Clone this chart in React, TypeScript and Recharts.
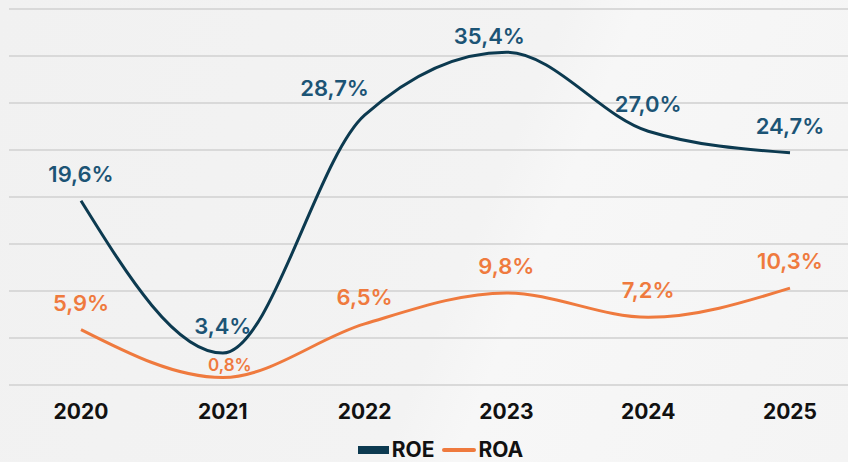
import React from "react";
import {
  LineChart,
  Line,
  XAxis,
  YAxis,
  CartesianGrid,
  LabelList,
  Legend,
} from "recharts";

const years = ["2020", "2021", "2022", "2023", "2024", "2025"];
const roe = [19.6, 3.4, 28.7, 35.4, 27.0, 24.7];
const roa = [5.9, 0.8, 6.5, 9.8, 7.2, 10.3];
const yTicks = [0, 5, 10, 15, 20, 25, 30, 35, 40];

const data = years.map((year, i) => ({ year, roe: roe[i], roa: roa[i] }));

// a couple of labels sit off their point so they clear the line / top edge
const roeNudgeX = [0, 0, -30, -17, 0, 0];
const roeNudgeY = [0, 0, 0, 11, 0, 0];

const ROE_LINE = "#0c3a50";
const ROE_TEXT = "#1c5475";
const ROA = "#ef7a3e";
const FONT = "Inter, 'Open Sans', sans-serif";

const fmt = (v: number) => v.toFixed(1).replace(".", ",") + "%";

const RoeLabel = (props: any) => {
  const { x, y, value, index } = props;
  return (
    <text
      x={x + roeNudgeX[index]}
      y={y - 19 + roeNudgeY[index]}
      textAnchor="middle"
      fill={ROE_TEXT}
      fontFamily={FONT}
      fontWeight={600}
      fontSize={22}
    >
      {fmt(value)}
    </text>
  );
};

const RoaLabel = (props: any) => {
  const { x, y, value, index } = props;
  const small = index === 1;
  return (
    <text
      x={x + (small ? 7 : 0)}
      y={small ? y - 6 : y - 19}
      textAnchor="middle"
      fill={ROA}
      fontFamily={FONT}
      fontWeight={600}
      fontSize={small ? 17 : 22}
    >
      {fmt(value)}
    </text>
  );
};

const LegendBox = () => (
  <div
    style={{
      height: 32,
      display: "flex",
      justifyContent: "center",
      alignItems: "flex-start",
      fontFamily: FONT,
      fontWeight: 700,
      fontSize: 21,
      color: "#111",
      paddingLeft: 24,
    }}
  >
    <div style={{ display: "flex", alignItems: "center", marginTop: 7 }}>
      <div style={{ width: 31, height: 8, background: ROE_LINE, marginRight: 3 }} />
      <span>ROE</span>
      <div
        style={{
          width: 34,
          height: 4,
          background: ROA,
          borderRadius: 2,
          marginLeft: 8,
          marginRight: 2,
        }}
      />
      <span>ROA</span>
    </div>
  </div>
);

export default function App() {
  return (
    <div
      style={{
        position: "absolute",
        left: 0,
        top: 0,
        width: 848,
        height: 462,
        overflow: "hidden",
        background:
          "linear-gradient(112deg, #f1f1f1 0%, #f3f3f3 55%, #f7f7f7 62%, #f4f4f4 100%)",
      }}
    >
      <LineChart
        width={848}
        height={462}
        data={data}
        margin={{ top: 9, right: 0, left: 9, bottom: 0 }}
      >
        <CartesianGrid vertical={false} stroke="#d9d9d9" strokeWidth={2} />
        <XAxis
          dataKey="year"
          axisLine={false}
          tickLine={false}
          padding={{ left: 72, right: 58 }}
          height={45}
          tickMargin={13}
          tick={{ fill: "#111", fontSize: 21, fontWeight: 700, fontFamily: FONT }}
        />
        <YAxis hide domain={[0, 40]} ticks={yTicks} />
        <Legend verticalAlign="bottom" content={<LegendBox />} />
        <Line
          type="monotone"
          dataKey="roe"
          name="ROE"
          stroke={ROE_LINE}
          strokeWidth={3}
          dot={false}
          activeDot={false}
          isAnimationActive={false}
        >
          <LabelList dataKey="roe" content={<RoeLabel />} />
        </Line>
        <Line
          type="monotone"
          dataKey="roa"
          name="ROA"
          stroke={ROA}
          strokeWidth={3}
          dot={false}
          activeDot={false}
          isAnimationActive={false}
        >
          <LabelList dataKey="roa" content={<RoaLabel />} />
        </Line>
      </LineChart>
    </div>
  );
}
